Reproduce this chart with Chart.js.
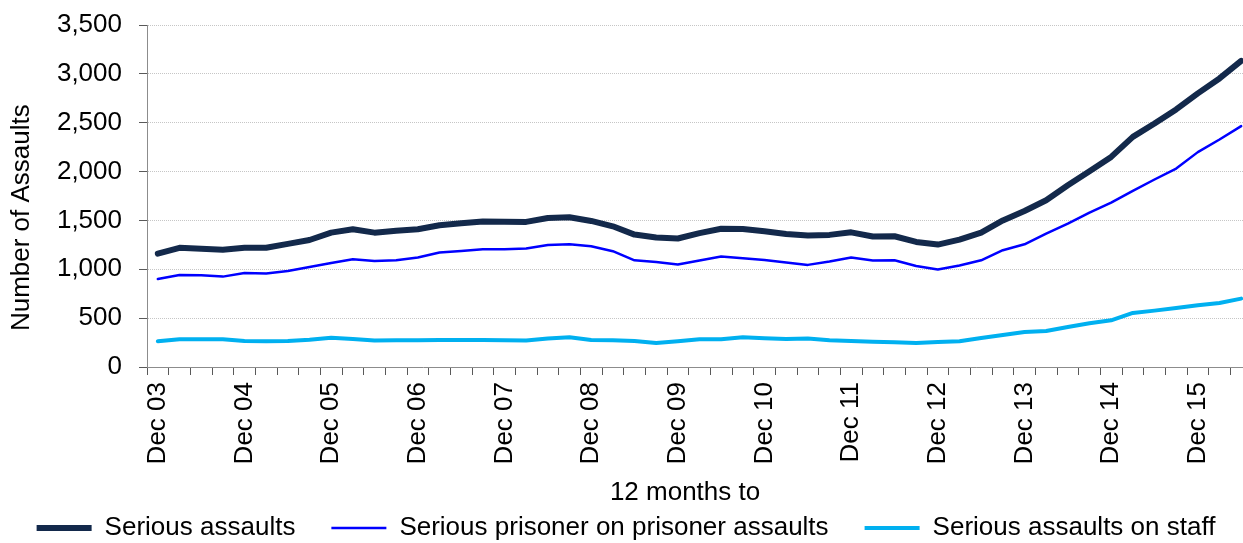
<!DOCTYPE html>
<html>
<head>
<meta charset="utf-8">
<script src="https://cdn.jsdelivr.net/npm/chart.js@4.4.0/dist/chart.umd.min.js"></script>
<style>
  html, body { margin: 0; padding: 0; overflow: hidden; background: #fff; }
  /* the plot runs a little past the right edge of the window, as in the original */
  #cadre { position: relative; width: 1252px; height: 551px; }
</style>
</head>
<body>
<div id="cadre"><canvas id="agressions"></canvas></div>
<script>
// 12 months to ... (quarterly)
const trimestres = [
  "Dec 03", "Mar 04", "Jun 04", "Sep 04",
  "Dec 04", "Mar 05", "Jun 05", "Sep 05",
  "Dec 05", "Mar 06", "Jun 06", "Sep 06",
  "Dec 06", "Mar 07", "Jun 07", "Sep 07",
  "Dec 07", "Mar 08", "Jun 08", "Sep 08",
  "Dec 08", "Mar 09", "Jun 09", "Sep 09",
  "Dec 09", "Mar 10", "Jun 10", "Sep 10",
  "Dec 10", "Mar 11", "Jun 11", "Sep 11",
  "Dec 11", "Mar 12", "Jun 12", "Sep 12",
  "Dec 12", "Mar 13", "Jun 13", "Sep 13",
  "Dec 13", "Mar 14", "Jun 14", "Sep 14",
  "Dec 14", "Mar 15", "Jun 15", "Sep 15",
  "Dec 15", "Mar 16", "Jun 16"
];

const agressionsGraves = [
  1160, 1220, 1210, 1200, 1220, 1220, 1260, 1300, 1375, 1410,
  1375, 1395, 1410, 1450, 1470, 1490, 1487, 1485, 1525, 1532,
  1495, 1440, 1355, 1325, 1315, 1370, 1415, 1412, 1390, 1362,
  1345, 1352, 1378, 1335, 1338, 1280, 1253, 1304, 1376, 1500,
  1597, 1707, 1860, 2004, 2150, 2355, 2492, 2636, 2800, 2953,
  3133
];

const entreDetenus = [
  901, 942, 939, 925, 963, 956, 983, 1024, 1065, 1103,
  1086, 1092, 1120, 1171, 1188, 1205, 1205, 1212, 1249, 1256,
  1236, 1185, 1092, 1075, 1048, 1089, 1130, 1113, 1096, 1069,
  1045, 1079, 1120, 1090, 1092, 1034, 997, 1038, 1092, 1195,
  1256, 1366, 1468, 1581, 1683, 1802, 1919, 2031, 2199, 2328,
  2465
];

const contrePersonnel = [
  263, 284, 284, 284, 265, 263, 267, 280, 300, 287,
  270, 274, 274, 277, 277, 277, 274, 271, 291, 304,
  277, 274, 267, 246, 263, 284, 284, 304, 294, 287,
  291, 274, 267, 258, 253, 246, 256, 263, 297, 328,
  358, 368, 410, 447, 478, 553, 577, 604, 632, 655,
  700
];

Chart.defaults.font.family = '"Liberation Sans", Arial, sans-serif';
Chart.defaults.font.size = 26;
Chart.defaults.color = "#000";

const data = {
  labels: trimestres,
  datasets: [
    {
      label: "Serious assaults",
      data: agressionsGraves,
      borderColor: "#13294b",
      backgroundColor: "#13294b",
      borderWidth: 6,
    },
    {
      label: "Serious prisoner on prisoner assaults",
      data: entreDetenus,
      borderColor: "#0000ff",
      backgroundColor: "#0000ff",
      borderWidth: 2.5,
    },
    {
      label: "Serious assaults on staff",
      data: contrePersonnel,
      borderColor: "#00b0f0",
      backgroundColor: "#00b0f0",
      borderWidth: 4,
    },
  ],
};

const config = {
  type: "line",
  data: data,
  options: {
    responsive: true,
    maintainAspectRatio: false,
    animation: false,
    layout: { padding: { top: 25, left: 0, right: 0, bottom: 0 } },
    elements: {
      point: { radius: 0 },
      line: { tension: 0, fill: false, borderCapStyle: "round", borderJoinStyle: "round" },
    },
    plugins: {
      tooltip: { enabled: false },
      legend: {
        position: "bottom",
        labels: {
          usePointStyle: true,
          pointStyle: "line",
          pointStyleWidth: 55,
          padding: 36,
          color: "#000",
        },
      },
    },
    scales: {
      x: {
        offset: true,
        grid: {
          offset: true,
          drawOnChartArea: false,
          tickLength: 8,
          tickColor: "#595959",
        },
        border: { color: "#8c8c8c" },
        ticks: {
          autoSkip: false,
          maxRotation: 90,
          minRotation: 90,
          padding: 7,
          // one label per year, tick marks for every quarter
          callback: function (valeur, i) {
            return i % 4 === 0 ? this.getLabelForValue(valeur) : "";
          },
        },
        title: { display: true, text: "12 months to    ", padding: { top: 0, bottom: -29 } },
        afterFit: (echelle) => {
          echelle.height = 112;
          echelle.paddingLeft = 0;
          echelle.paddingRight = 0;
        },
      },
      y: {
        min: 0,
        max: 3500,
        ticks: {
          stepSize: 500,
          padding: 17,
          callback: (v) => v.toLocaleString("en-GB"),
        },
        grid: { color: "#c6c6c6", lineWidth: 1, tickLength: 8, tickColor: "#595959" },
        border: { color: "#8c8c8c", dash: [1, 1] },
        title: { display: true, text: "Number of Assaults      ", padding: { top: 6, bottom: 0 } },
        afterFit: (echelle) => {
          echelle.width = 147;
          // the top of the plot is set by the layout padding only
          echelle.paddingTop = 0;
        },
      },
    },
  },
};

const graphique = new Chart(document.querySelector("#agressions"), config);
</script>
</body>
</html>
